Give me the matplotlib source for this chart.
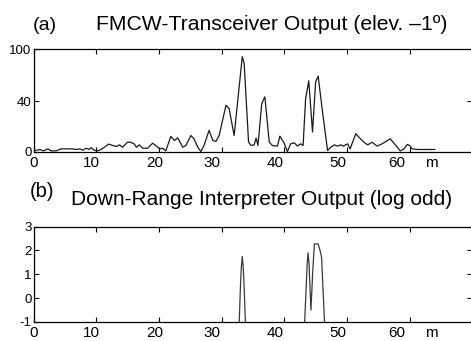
import matplotlib
matplotlib.use("Agg")
import matplotlib.pyplot as plt
import matplotlib.transforms as mtransforms

plt.rcParams['font.family'] = ['Liberation Sans', 'DejaVu Sans']

# ---- data: panel (a) FMCW transceiver output (range m, amplitude) ----
range_a = [0.0, 0.4, 1.0, 1.6, 2.3, 2.8, 3.6, 4.4, 5.2, 6.3, 6.8, 7.4, 7.9, 8.4, 8.9, 9.2,
           9.7, 10.2, 10.8, 11.3, 12.0, 12.6, 13.3, 13.7, 14.2, 15.0, 15.5, 16.1, 16.4,
           16.9, 17.4, 18.2, 19.0, 19.5, 20.1, 20.6, 21.1, 21.9, 22.5, 23.0, 23.8, 24.3,
           25.1, 25.6, 26.2, 26.7, 27.2, 28.0, 28.6, 29.1, 29.6, 30.7, 31.2, 32.0, 33.3,
           33.6, 34.3, 34.7, 35.2, 35.5, 35.8, 36.4, 36.9, 37.6, 38.1, 38.9, 39.3, 39.9,
           40.5, 41.0, 41.6, 42.1, 42.6, 43.0, 43.4, 43.9, 44.5, 45.0, 45.4, 46.1, 46.9,
           47.4, 48.0, 48.5, 49.0, 49.4, 50.1, 50.5, 51.4, 51.9, 52.7, 53.3, 54.0, 54.8,
           55.6, 56.9, 57.7, 58.5, 59.1, 59.6, 60.0, 60.4, 61.2, 64.0]
amp_a = [1.0, 0.8, 1.6, 0.5, 2.1, 0.5, 0.5, 2.1, 2.1, 2.1, 1.6, 2.1, 1.0, 2.6, 1.6, 3.1,
         1.0, 0.5, 1.6, 3.4, 5.9, 4.8, 4.0, 5.3, 3.4, 7.4, 7.4, 5.9, 3.4, 5.3, 2.6, 2.6,
         6.6, 4.8, 2.1, 2.6, 0.5, 12.0, 8.8, 10.9, 3.4, 4.8, 12.7, 10.1, 3.4, 0.0, 4.8,
         16.8, 8.8, 8.0, 12.7, 36.8, 34.2, 12.7, 75.5, 70.0, 7.4, 4.8, 5.3, 10.7, 4.8,
         38.1, 43.5, 7.4, 4.8, 4.3, 12.2, 7.4, 0.0, 6.1, 6.9, 4.3, 6.1, 4.8, 42.1, 56.3,
         15.5, 55.5, 60.0, 31.4, 0.8, 3.4, 5.3, 4.3, 5.3, 4.3, 6.1, 2.1, 14.2, 11.4, 7.4,
         5.3, 7.4, 4.3, 6.1, 10.1, 5.3, 0.5, 2.1, 5.6, 4.8, 2.1, 1.6, 1.6]

# ---- data: panel (b) down-range interpreter output (log odd) ----
range_b = [0.0, 32.55, 33.0, 33.15, 33.3, 33.45, 33.6, 34.05,
           42.9, 43.5, 43.65, 43.8, 43.95, 44.25, 44.55, 44.8, 45.4, 45.7, 45.95, 46.75, 70.0]
logodd_b = [-3.0, -3.0, 0.45, 1.3, 1.74, 1.3, 0.45, -3.0,
            -3.0, 0.5, 1.45, 1.9, 1.4, -0.5, 1.2, 2.27, 2.27, 2.0, 1.7, -3.0, -3.0]

# ---- ticks / labels ----
x_ticks = [0, 10, 20, 30, 40, 50, 60]
x_labels = ['0', '10', '20', '30', '40', '50', '60', 'm']
x_label_pos = [0.0, 9.3, 19.4, 28.5, 38.6, 48.5, 57.9, 63.4]
ya_ticks = [0, 40, 81.6]
ya_labels = ['0', '40', '100']
yb_ticks = [-1, 0, 1, 2, 3]
yb_labels = ['-1', '0', '1', '2', '3']

title_a = 'FMCW-Transceiver Output (elev. \u20131\u00ba)'
title_b = 'Down-Range Interpreter Output (log odd)'

W, H = 471, 341
fig = plt.figure(figsize=(W / 100, H / 100), dpi=100)

x0 = 33.5
xw = 70 * 6.27
ax_a = fig.add_axes([x0 / W, 1 - 151.5 / H, xw / W, 102.5 / H])
ax_b = fig.add_axes([x0 / W, 1 - 322 / H, xw / W, 95.5 / H])

ax_a.plot(range_a, amp_a, color='#1a1a1a', lw=0.9)
ax_b.plot(range_b, logodd_b, color='#3a3a3a', lw=0.9)

ax_a.set_xlim(0, 70)
ax_a.set_ylim(0, 81.6)
ax_b.set_xlim(0, 70)
ax_b.set_ylim(-1, 3)

ax_a.set_yticks(ya_ticks)
ax_a.set_yticklabels(ya_labels)
ax_b.set_yticks(yb_ticks)
ax_b.set_yticklabels(yb_labels)

for ax in (ax_a, ax_b):
    ax.set_xticks(x_ticks)
    ax.set_xticklabels([])
    ax.tick_params(axis='both', direction='in', length=3.5, width=0.8,
                   top=True, right=True, bottom=True, left=True, color='black')
    ax.tick_params(axis='y', labelsize=9.5, pad=1.5)
    for s in ('left', 'top', 'bottom'):
        ax.spines[s].set_linewidth(0.9)
        ax.spines[s].set_color('black')
    ax.spines['right'].set_visible(False)
    trans = mtransforms.blended_transform_factory(ax.transData, ax.transAxes)
    for pos, lab in zip(x_label_pos, x_labels):
        ax.annotate(lab, xy=(pos, 0), xycoords=trans, xytext=(0, -3),
                    textcoords='offset points', ha='center', va='top',
                    fontsize=11, annotation_clip=False)

fig.text(33 / W, 1 - 29.5 / H, '(a)', fontsize=14, ha='left', va='baseline')
fig.text(96 / W, 1 - 30 / H, title_a, fontsize=15.2, ha='left', va='baseline')
fig.text(30 / W, 1 - 197 / H, '(b)', fontsize=14.5, ha='left', va='baseline')
fig.text(71 / W, 1 - 205 / H, title_b, fontsize=15, ha='left', va='baseline')

fig.savefig('out.png', dpi=100)
